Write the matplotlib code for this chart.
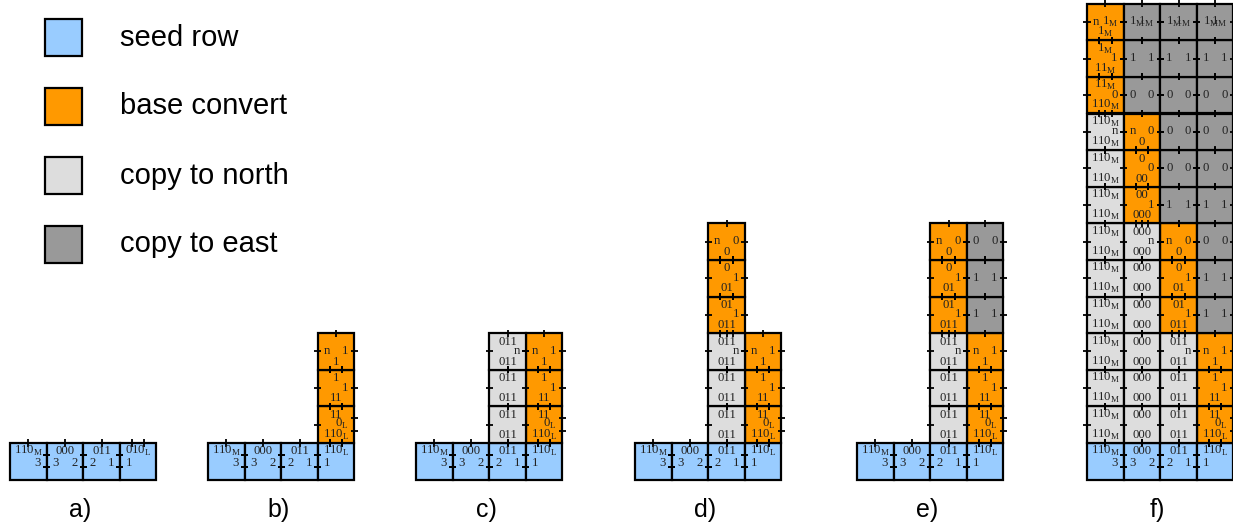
import matplotlib.pyplot as plt
from matplotlib.patches import Rectangle

# ---------------------------------------------------------------------------
# tile types: kind, labels (N, E, S, W), glue strengths (N, E, S, W)
# ---------------------------------------------------------------------------
TILE_TYPES = {
    # seed row
    "seedM": ("seed", ("110_M", "3", "", ""), (1, 2, 0, 0)),
    "seed0": ("seed", ("000", "2", "", "3"), (1, 2, 0, 2)),
    "seed1": ("seed", ("011", "1", "", "2"), (1, 2, 0, 2)),
    "seedLa": ("seed", ("010_L", "", "", "1"), (2, 0, 0, 2)),
    "seedL": ("seed", ("110_L", "", "", "1"), (2, 0, 0, 2)),
    # base convert
    "bL1": ("base", ("11", "0_L", "110_L", ""), (2, 2, 2, 1)),
    "bL2": ("base", ("1", "1", "11", ""), (2, 1, 2, 1)),
    "bL3": ("base", ("", "1", "1", "n"), (1, 1, 2, 1)),
    "b01a": ("base", ("01", "1", "011", ""), (2, 1, 2, 1)),
    "b01b": ("base", ("0", "1", "01", ""), (2, 1, 2, 1)),
    "bn0": ("base", ("", "0", "0", "n"), (1, 1, 2, 1)),
    "b00a": ("base", ("00", "1", "000", ""), (2, 1, 2, 1)),
    "b00b": ("base", ("0", "0", "00", ""), (2, 1, 2, 1)),
    "bMa": ("base", ("11_M", "0", "110_M", ""), (2, 1, 2, 1)),
    "bMb": ("base", ("1_M", "1", "11_M", ""), (2, 1, 2, 1)),
    "bMc": ("base", ("", "1_M", "1_M", "n"), (1, 1, 2, 1)),
    # copy to north
    "c011": ("north", ("011", "", "011", ""), (1, 0, 1, 1)),
    "c011n": ("north", ("011", "n", "011", ""), (1, 1, 1, 1)),
    "c000": ("north", ("000", "", "000", ""), (1, 0, 1, 1)),
    "c000n": ("north", ("000", "n", "000", ""), (1, 1, 1, 1)),
    "c110M": ("north", ("110_M", "", "110_M", ""), (1, 0, 1, 1)),
    "c110Mn": ("north", ("110_M", "n", "110_M", ""), (1, 1, 1, 1)),
    # copy to east
    "e1": ("east", ("", "1", "", "1"), (1, 1, 1, 1)),
    "e0": ("east", ("", "0", "", "0"), (1, 1, 1, 1)),
    "e1M": ("east", ("", "1_M", "", "1_M"), (1, 1, 1, 1)),
}

KIND_COLORS = {"seed": "#99ccff", "base": "#ff9900", "north": "#dddddd", "east": "#999999"}
LEGEND_KINDS = ["seed", "base", "north", "east"]
LEGEND_LABELS = ["seed row", "base convert", "copy to north", "copy to east"]

# ---------------------------------------------------------------------------
# assemblies: (column, row, tile type); row 0 is the seed row
# ---------------------------------------------------------------------------
seed_a = [(0, 0, "seedM"), (1, 0, "seed0"), (2, 0, "seed1"), (3, 0, "seedLa")]
seed = [(0, 0, "seedM"), (1, 0, "seed0"), (2, 0, "seed1"), (3, 0, "seedL")]
col3_base = [(3, 1, "bL1"), (3, 2, "bL2"), (3, 3, "bL3")]
col2_north = [(2, 1, "c011"), (2, 2, "c011"), (2, 3, "c011n")]
col2_base = [(2, 4, "b01a"), (2, 5, "b01b"), (2, 6, "bn0")]
col3_east = [(3, 4, "e1"), (3, 5, "e1"), (3, 6, "e0")]

panel_a = seed_a
panel_b = seed + col3_base
panel_c = panel_b + col2_north
panel_d = panel_c + col2_base
panel_e = panel_d + col3_east
panel_f = (panel_e
           + [(0, r, "c110M") for r in range(1, 9)] + [(0, 9, "c110Mn"),
              (0, 10, "bMa"), (0, 11, "bMb"), (0, 12, "bMc")]
           + [(1, r, "c000") for r in range(1, 6)] + [(1, 6, "c000n"),
              (1, 7, "b00a"), (1, 8, "b00b"), (1, 9, "bn0"),
              (1, 10, "e0"), (1, 11, "e1"), (1, 12, "e1M")]
           + [(2, 7, "e1"), (2, 8, "e0"), (2, 9, "e0"), (2, 10, "e0"),
              (2, 11, "e1"), (2, 12, "e1M")]
           + [(3, 7, "e1"), (3, 8, "e0"), (3, 9, "e0"), (3, 10, "e0"),
              (3, 11, "e1"), (3, 12, "e1M")])

PANELS = [panel_a, panel_b, panel_c, panel_d, panel_e, panel_f]
PANEL_NAMES = ["a)", "b)", "c)", "d)", "e)", "f)"]

# layout (pixel units)
T = 36.6
PANEL_X = [10, 208, 416, 635, 857, 1087]
BASE_Y = 479.5
TILE_FONT = dict(family="Liberation Serif", fontsize=9.2, color="#222222")


def fmt(label):
    if "_" in label:
        base, sub = label.split("_")
        return base + r"$_\mathregular{" + sub + "}$"
    return label


def ticks(ax, x0, y0, side, s):
    if s == 0:
        return
    offs = [0.5] if s == 1 else [0.33, 0.67]
    d = 3.6
    for f in offs:
        if side == "N":
            xs, ys = [x0 + f * T] * 2, [y0 - d, y0 + d]
        elif side == "S":
            xs, ys = [x0 + f * T] * 2, [y0 + T - d, y0 + T + d]
        elif side == "E":
            xs, ys = [x0 + T - d, x0 + T + d], [y0 + f * T] * 2
        else:
            xs, ys = [x0 - d, x0 + d], [y0 + f * T] * 2
        ax.plot(xs, ys, color="black", lw=1.3, solid_capstyle="butt", zorder=3)


def draw_tile(ax, px, col, row, ttype):
    kind, (n, e, s, w), strengths = TILE_TYPES[ttype]
    x0 = px + col * T
    y0 = BASE_Y - (row + 1) * T
    ax.add_patch(Rectangle((x0, y0), T, T, facecolor=KIND_COLORS[kind],
                           edgecolor="black", lw=1.6, zorder=2))
    for side, st in zip("NESW", strengths):
        ticks(ax, x0, y0, side, st)
    cy = y0 + T * (0.56 if kind == "seed" else 0.49)
    if n:
        ax.text(x0 + T / 2, y0 + 0.23 * T, fmt(n), ha="center", va="center", zorder=4, **TILE_FONT)
    if s:
        ax.text(x0 + T / 2, y0 + 0.78 * T, fmt(s), ha="center", va="center", zorder=4, **TILE_FONT)
    if e:
        ax.text(x0 + T - 0.16 * T, cy, fmt(e), ha="right", va="center", zorder=4, **TILE_FONT)
    if w:
        ax.text(x0 + 0.16 * T, cy, fmt(w), ha="left", va="center", zorder=4, **TILE_FONT)


fig = plt.figure(figsize=(12.33, 5.29), dpi=100)
ax = fig.add_axes([0, 0, 1, 1])
ax.set_xlim(0, 1233)
ax.set_ylim(529, 0)
ax.axis("off")

for px, tiles, name in zip(PANEL_X, PANELS, PANEL_NAMES):
    for col, row, ttype in tiles:
        draw_tile(ax, px, col, row, ttype)
    ax.text(px + 2 * T - 3, 510, name, ha="center", va="center",
            family="Liberation Sans", fontsize=18)

# legend
for i, (kind, label) in enumerate(zip(LEGEND_KINDS, LEGEND_LABELS)):
    y = 19 + i * 69
    ax.add_patch(Rectangle((45, y), 37, 37, facecolor=KIND_COLORS[kind],
                           edgecolor="black", lw=1.6))
    ax.text(120, y + 18.5, label, ha="left", va="center",
            family="Liberation Sans", fontsize=21)

fig.savefig("out.png", dpi=100)
